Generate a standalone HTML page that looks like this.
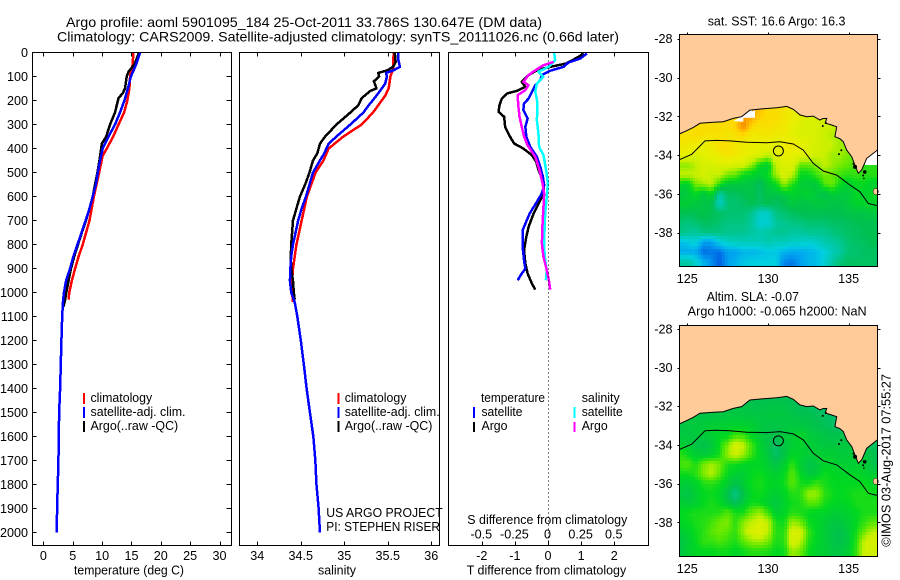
<!DOCTYPE html>
<html lang="en">
<head>
<meta charset="utf-8">
<title>Argo profile 5901095_184</title>
<style>
html,body{margin:0;padding:0;background:#fff;width:900px;height:580px;overflow:hidden}
svg{display:block}
text{font-family:"Liberation Sans",Arial,sans-serif;font-size:12.6px;fill:#000}
.title{font-size:14px}
</style>
</head>
<body>
<svg id="chart" xmlns="http://www.w3.org/2000/svg" width="900" height="580" viewBox="0 0 900 580">
  <rect x="0" y="0" width="900" height="580" fill="#fff"/>
  <g id="mapLayer"></g>
  <g id="seriesLayer"></g>
  <g id="axisLayer"></g>

  <text class="title" x="66" y="27" textLength="476" lengthAdjust="spacingAndGlyphs">Argo profile: aoml 5901095_184 25-Oct-2011 33.786S 130.647E (DM data)</text>
  <text class="title" x="57" y="41.5" textLength="562" lengthAdjust="spacingAndGlyphs">Climatology: CARS2009. Satellite-adjusted climatology: synTS_20111026.nc (0.66d later)</text>

  <text x="74" y="574.5" textLength="110" lengthAdjust="spacingAndGlyphs">temperature (deg C)</text>
  <text x="318" y="574.5" textLength="38" lengthAdjust="spacingAndGlyphs">salinity</text>
  <text x="466.7" y="574.5" textLength="159.5" lengthAdjust="spacingAndGlyphs">T difference from climatology</text>
  <text x="467.3" y="524" textLength="160" lengthAdjust="spacingAndGlyphs">S difference from climatology</text>

  <g>
    <rect x="83" y="393" width="2" height="11" fill="#f00"/>
    <rect x="83" y="407" width="2" height="11" fill="#00f"/>
    <rect x="83" y="421" width="2" height="11" fill="#000"/>
    <text x="90.5" y="402" textLength="61.7" lengthAdjust="spacingAndGlyphs">climatology</text>
    <text x="90.5" y="416" textLength="95" lengthAdjust="spacingAndGlyphs">satellite-adj. clim.</text>
    <text x="90.5" y="430" textLength="87.7" lengthAdjust="spacingAndGlyphs">Argo(..raw -QC)</text>
  </g>
  <g>
    <rect x="337.5" y="393" width="2" height="11" fill="#f00"/>
    <rect x="337.5" y="407" width="2" height="11" fill="#00f"/>
    <rect x="337.5" y="421" width="2" height="11" fill="#000"/>
    <text x="344.7" y="402" textLength="61.7" lengthAdjust="spacingAndGlyphs">climatology</text>
    <text x="344.7" y="416" textLength="95" lengthAdjust="spacingAndGlyphs">satellite-adj. clim.</text>
    <text x="344.7" y="430" textLength="87.7" lengthAdjust="spacingAndGlyphs">Argo(..raw -QC)</text>
  </g>
  <g>
    <text x="481" y="402" textLength="64" lengthAdjust="spacingAndGlyphs">temperature</text>
    <text x="581.7" y="402" textLength="38" lengthAdjust="spacingAndGlyphs">salinity</text>
    <rect x="473" y="407" width="2" height="11" fill="#00f"/>
    <rect x="473" y="422" width="2" height="10" fill="#000"/>
    <rect x="573.5" y="407" width="2" height="11" fill="#0ff"/>
    <rect x="573.5" y="422" width="2" height="10" fill="#f0f"/>
    <text x="481.5" y="416" textLength="41" lengthAdjust="spacingAndGlyphs">satellite</text>
    <text x="481.5" y="430" textLength="26" lengthAdjust="spacingAndGlyphs">Argo</text>
    <text x="581.7" y="416" textLength="41" lengthAdjust="spacingAndGlyphs">satellite</text>
    <text x="581.7" y="430" textLength="26" lengthAdjust="spacingAndGlyphs">Argo</text>
  </g>

  <text x="326.3" y="517" textLength="116.4" lengthAdjust="spacingAndGlyphs">US ARGO PROJECT</text>
  <text x="326.3" y="531" textLength="113.7" lengthAdjust="spacingAndGlyphs">PI: STEPHEN RISER</text>

  <text x="707.7" y="25.5" textLength="137.7" lengthAdjust="spacingAndGlyphs">sat. SST: 16.6 Argo: 16.3</text>
  <text x="706.7" y="301" textLength="92.3" lengthAdjust="spacingAndGlyphs">Altim. SLA: -0.07</text>
  <text x="687.7" y="315.7" textLength="179" lengthAdjust="spacingAndGlyphs">Argo h1000: -0.065 h2000: NaN</text>
  <text transform="translate(890.7 546.7) rotate(-90)" x="0" y="0" textLength="172.7" lengthAdjust="spacingAndGlyphs">©IMOS 03-Aug-2017 07:55:27</text>
</svg>

<script>
/* ---------- axis tick values ---------- */
const depthTicks = [0,100,200,300,400,500,600,700,800,900,1000,1100,1200,1300,1400,1500,1600,1700,1800,1900,2000];
const tempTicks = [0,5,10,15,20,25,30];
const salTicks = ['34','34.5','35','35.5','36'];
const tDiffTicks = ['-2','-1','0','1','2'];
const sDiffTicks = ['-0.5','-0.25','0','0.25','0.5'];
const lonTicks = [125,130,135];
const latTicks = [-28,-30,-32,-34,-36,-38];

/* ---------- temperature profiles ---------- */
const tempClimDepth = [0,50,70,100,150,200,250,300,350,400,430,500,600,700,800,850,900,950,1000,1030];
const tempClim = [15.33,15.2,15.0,14.77,14.65,14.3,13.75,12.8,11.9,10.8,10.1,9.5,8.6,7.85,6.7,6.0,5.4,4.85,4.4,4.3];
const tempArgoDepth = [0,50,80,100,150,170,190,250,300,350,380,450,500,550,600,650,700,750,800,850,900,950,1000,1030,1060];
const tempArgo = [16.3,15.5,14.5,14.2,13.9,13.5,12.8,12.2,11.35,10.7,9.95,9.55,9.2,8.8,8.4,7.85,7.25,6.55,5.9,5.25,4.7,4.3,3.9,3.7,3.4];
const tempSatDepth = [0,50,70,100,150,200,250,300,350,400,450,500,550,600,650,700,750,800,850,900,950,1000,1030,1100,1200,1300,1400,1500,1600,1700,1800,1900,2000];
const tempSat = [16.47,15.8,15.45,14.9,14.4,13.8,13.05,12.2,11.1,10.1,9.66,9.27,8.93,8.4,7.85,7.2,6.5,5.8,5.1,4.55,3.87,3.5,3.36,3.2,3.07,2.96,2.85,2.68,2.62,2.56,2.45,2.33,2.28];

/* ---------- salinity profiles ---------- */
const salClimDepth = [0,40,70,100,150,180,220,250,300,350,400,450,500,550,600,650,700,750,800,850,900,950,1000,1040];
const salClim = [35.57,35.56,35.56,35.53,35.51,35.47,35.39,35.33,35.2,34.99,34.82,34.76,34.67,34.62,34.57,34.54,34.51,34.48,34.45,34.43,34.41,34.4,34.4,34.41];
const salArgoDepth = [0,40,60,75,85,100,120,150,160,190,220,250,300,350,380,420,450,500,550,600,650,700,750,800,850,900,950,1000,1030];
const salArgo = [35.58,35.59,35.56,35.49,35.39,35.4,35.34,35.37,35.3,35.2,35.16,35.07,34.91,34.78,34.72,34.69,34.64,34.6,34.55,34.49,34.45,34.41,34.4,34.39,34.385,34.39,34.41,34.42,34.43];
const salSatDepth = [0,30,60,75,85,100,130,150,180,220,250,300,350,380,420,450,500,550,600,650,700,750,800,850,900,950,1000,1040,1100,1200,1300,1400,1500,1600,1700,1800,1900,2000];
const salSat = [35.62,35.62,35.64,35.56,35.48,35.49,35.47,35.43,35.37,35.28,35.22,35.07,34.91,34.82,34.77,34.72,34.64,34.6,34.56,34.51,34.47,34.44,34.41,34.39,34.38,34.375,34.39,34.43,34.46,34.5,34.535,34.567,34.605,34.644,34.667,34.68,34.705,34.72];

/* ---------- difference profiles ---------- */
const tDiffArgoDepth = [4,18,46,60,74,94,122,143,160,171,192,219,247,268,310,351,379,400,428,456,490,518,546,587,622,671,726,768,824,879,921,963,988];
const tDiffArgo = [1.06,0.91,0.53,0.05,-0.35,-0.6,-0.81,-0.7,-0.96,-1.26,-1.41,-1.48,-1.51,-1.34,-1.31,-1.16,-1.04,-0.76,-0.5,-0.37,-0.3,-0.22,-0.15,-0.15,-0.27,-0.45,-0.6,-0.67,-0.74,-0.7,-0.63,-0.5,-0.4];
const tDiffSatDepth = [4,25,42,60,76,94,115,136,164,192,212,240,275,310,351,393,435,476,518,553,587,622,671,740,810,865,900,928,949];
const tDiffSat = [1.16,0.96,0.6,0.45,0.05,-0.2,-0.25,-0.4,-0.5,-0.6,-0.74,-0.76,-0.63,-0.7,-0.67,-0.55,-0.35,-0.25,-0.17,-0.13,-0.2,-0.35,-0.57,-0.78,-0.78,-0.74,-0.7,-0.84,-0.93];
const sDiffSatDepth = [1,32,60,80,101,129,164,192,226,282,337,393,428,490,546,601,671,740,810,865,907,949];
const sDiffSat = [0.043,0.05,0,-0.076,-0.038,-0.088,-0.1,-0.088,-0.083,-0.088,-0.076,-0.071,-0.038,-0.018,-0.005,-0.013,-0.025,-0.03,-0.033,-0.025,-0.013,-0.02];
const sDiffArgoDepth = [39,53,74,94,122,136,157,178,226,268,310,351,386,435,490,546,587,643,712,796,851,907,949,988];
const sDiffArgo = [0.038,-0.038,-0.1,-0.151,-0.189,-0.151,-0.176,-0.234,-0.227,-0.219,-0.202,-0.184,-0.159,-0.1,-0.068,-0.045,-0.033,-0.038,-0.045,-0.05,-0.038,-0.013,0.003,0.013];

/* ---------- map grids: columns start at 124.5E every 0.5 deg, rows start at 31.5S ---------- */
const gridLon0 = 124.5;
const gridLat0 = -31.5;
const sstGrid = [
 [null,null,null,null,null,null,null,null,null,17.6,17.3,16.9,17,16.8,16.6,16.4,16.4,16.4,16.4,16.4,16.4,16.4,16.4,16.4,16.4],
 [17,17,17,17,17,17,17,16.8,17.6,17.5,17.1,16.9,16.9,16.7,16.6,16.4,16.3,16.2,16.2,16.2,16,16,16,null,null],
 [16.9,16.9,16.9,16.9,16.9,16.9,16.9,17.1,17.9,17,16.8,16.9,16.8,16.7,16.5,16.3,16.2,16.2,16.1,16,16,16,16,null,null],
 [16.8,16.8,16.9,16.8,16.8,16.8,16.7,16.8,16.9,16.6,16.7,16.7,16.6,16.6,16.4,16.3,16.3,16.2,16,15.9,15.8,15.8,15.8,null,null],
 [16.7,16.7,16.6,16.5,16.6,16.9,16.9,16.7,16.6,16.6,16.5,16.5,16.4,16.6,16.7,16.5,16.3,16.2,16.1,16,15.8,15.8,15.7,null,null],
 [16.5,16.4,16.3,16.4,16.5,16.6,16.8,16.7,16.6,16.4,16.3,16,16.4,16.5,16.5,16.4,16.3,16.1,16,15.8,15.8,15.6,15.6,null,null],
 [15.7,15.7,15.9,16.2,16.2,16.3,16.3,16.2,16.2,15.7,15,14.8,16,16.3,16.3,15.5,15.5,15.7,16,15.8,15.6,15.5,15.3,15.2,15.2],
 [16,16,16,16.2,16,16,15.6,15.5,15,14.9,14.8,15,15.8,16.2,16,15,15,15.3,15.6,15.5,15.3,15.2,15.3,15.2,15.2],
 [15,14.8,15.6,15.8,16,15.2,14.7,14.7,14.7,14.6,14.4,14.8,15,15.8,15.2,14.8,14.7,14.7,15.4,15.6,15,14.8,15,15,14.8],
 [14.6,14.7,15,14.6,15,13.9,14.4,14.4,14.5,14.6,14.4,14.6,14.6,14.7,14.9,14.8,14.9,14.7,14.5,14.8,14.7,14.7,15,14.8,15],
 [14.8,14.8,14.7,14.6,14.6,13.7,14.3,14.3,14.4,14.5,14.4,14.5,14.4,14.5,14.7,14.6,14.6,14.7,14.7,14.6,14.6,14.7,14.9,14.9,14.9],
 [14.5,14.5,14.5,14.6,14.5,14.4,14.3,14.3,14.3,14.1,13.7,13.7,14.2,14.3,14.4,14.5,14.5,14.5,14.5,14.5,14.5,14.6,14.6,14.6,14.7],
 [14.3,14.2,14.3,14.4,14.4,14.3,14.2,14.2,14.2,14,13.6,13.6,14,14.1,14.2,14.2,14.3,14.3,14.3,14.4,14.4,14.4,14.5,14.5,14.5],
 [14.2,14.1,14,14.2,14.2,14.2,14.1,14.1,14.1,14,13.9,14,14.1,14.1,14,14,14.1,14.1,14.1,14.2,14.3,14.4,14.4,14.5,14.5],
 [13.3,13.4,13.6,13,13,13.5,13.7,13.8,13.8,13.8,13.8,13.9,13.8,13.8,13.7,13.7,13.6,13.7,13.9,14,14.1,14.3,14.4,14.4,14.5],
 [13.1,13.1,13.1,12.6,12.7,12.6,13,13,13.2,13.2,13.3,13.4,13.4,13.2,13.1,13.1,13.2,13.3,13.5,13.8,14,14.3,14.3,14.4,14.4],
 [14,14,13.7,13.2,12.9,12.5,13,13.2,13.4,13.5,13.5,13.5,13.5,12.8,12.7,13,13.2,13.3,13.6,14,14.3,14.4,14.4,14.4,14.4]
];
const slaGrid = [
 [-0.14,-0.14,-0.14,-0.14,-0.14,-0.14,-0.14,-0.14,-0.14,-0.14,-0.14,-0.15,-0.15,-0.15,-0.16,-0.17,-0.18,-0.18,-0.18,-0.18,-0.18,-0.18,-0.18,-0.18,-0.18],
 [-0.15,-0.15,-0.15,-0.14,-0.14,-0.13,-0.13,-0.13,-0.13,-0.14,-0.14,-0.13,-0.13,-0.13,-0.14,-0.15,-0.16,-0.17,-0.17,-0.18,-0.18,-0.18,-0.18,-0.18,-0.18],
 [-0.14,-0.13,-0.13,-0.13,-0.13,-0.12,-0.12,-0.12,-0.12,-0.12,-0.12,-0.12,-0.12,-0.12,-0.13,-0.14,-0.14,-0.15,-0.16,-0.17,-0.18,-0.19,-0.19,-0.18,-0.18],
 [-0.13,-0.12,-0.11,-0.11,-0.1,-0.1,-0.09,-0.09,-0.09,-0.1,-0.12,-0.13,-0.13,-0.12,-0.12,-0.12,-0.13,-0.14,-0.15,-0.16,-0.17,-0.17,-0.16,-0.16,-0.16],
 [-0.12,-0.12,-0.12,-0.11,-0.1,-0.08,-0.08,-0.02,-0.03,-0.08,-0.11,-0.13,-0.14,-0.12,-0.1,-0.08,-0.11,-0.12,-0.13,-0.14,-0.14,-0.14,-0.14,-0.14,-0.16],
 [-0.1,-0.11,-0.13,-0.14,-0.12,-0.06,0.03,0.12,0.08,-0.02,-0.09,-0.13,-0.17,-0.13,-0.1,-0.09,-0.1,-0.11,-0.12,-0.12,-0.12,-0.12,-0.13,-0.14,-0.16],
 [-0.03,-0.06,-0.1,-0.11,-0.1,-0.05,0.05,0.1,0.05,-0.03,-0.08,-0.12,-0.17,-0.13,-0.08,-0.09,-0.11,-0.1,-0.1,-0.1,-0.11,-0.11,-0.11,-0.12,-0.14],
 [-0.02,0,-0.05,0.02,0.06,0.02,-0.05,-0.06,-0.08,-0.08,-0.08,-0.1,-0.13,-0.1,-0.03,-0.1,-0.13,-0.12,-0.09,-0.09,-0.1,-0.1,-0.1,-0.1,-0.14],
 [-0.06,-0.06,-0.04,0.03,0.08,0,-0.07,-0.1,-0.1,-0.07,-0.06,-0.08,-0.1,-0.07,0,-0.07,-0.12,-0.11,-0.06,-0.07,-0.08,-0.08,-0.08,-0.09,-0.1],
 [-0.1,-0.11,-0.09,-0.05,-0.04,-0.06,-0.1,-0.14,-0.1,-0.06,-0.05,-0.07,-0.08,-0.06,0,-0.05,-0.06,-0.02,-0.05,-0.07,-0.07,-0.07,-0.07,-0.06,-0.08],
 [-0.12,-0.13,-0.1,-0.07,-0.06,-0.08,-0.14,-0.2,-0.13,-0.07,-0.06,-0.08,-0.1,-0.08,-0.04,-0.04,0.05,0.05,-0.03,-0.06,-0.07,-0.06,-0.05,-0.05,-0.06],
 [-0.1,-0.11,-0.1,-0.07,-0.05,-0.07,-0.12,-0.16,-0.11,-0.06,-0.07,-0.1,-0.12,-0.09,-0.06,-0.05,0,0,-0.05,-0.07,-0.08,-0.07,-0.05,-0.05,-0.05],
 [-0.07,-0.06,-0.05,-0.05,-0.05,-0.04,0,-0.05,-0.05,0.02,0.05,-0.02,-0.1,-0.08,-0.04,-0.05,-0.07,-0.08,-0.08,-0.1,-0.1,-0.09,-0.07,-0.05,-0.05],
 [-0.08,-0.07,-0.05,-0.04,-0.02,0.02,0.03,-0.04,0.04,0.08,0.12,0.08,-0.05,-0.06,0.05,0.02,-0.06,-0.08,-0.1,-0.12,-0.12,-0.1,-0.07,-0.03,0],
 [-0.11,-0.09,-0.06,-0.04,0,0.02,0,-0.03,0.06,0.12,0.14,0.08,-0.04,-0.04,0.12,0.12,-0.02,-0.08,-0.1,-0.13,-0.14,-0.11,-0.05,0.02,0.08],
 [-0.13,-0.11,-0.07,-0.03,-0.03,-0.01,-0.03,-0.05,0,0.04,0.05,0.02,-0.05,-0.04,0.12,0.08,-0.04,-0.08,-0.1,-0.13,-0.14,-0.11,-0.03,0.1,0.12],
 [-0.13,-0.1,-0.08,-0.07,-0.07,-0.06,-0.06,-0.08,-0.06,-0.04,-0.04,-0.05,-0.07,-0.06,0.05,0.02,-0.06,-0.09,-0.1,-0.12,-0.12,-0.1,-0.02,0.1,0.1]
];

/* ---------- colour ramp anchors (field value, colour) ---------- */
const rampValues = [12.4,13,13.5,14,14.5,15,15.5,16,16.5,17,17.5,18];
const rampColours = [[0,80,224],[0,160,240],[0,208,224],[0,200,160],[0,192,80],[0,216,32],[96,232,0],[200,240,0],[232,240,0],[255,216,0],[255,168,0],[240,120,0]];

/* ---------- coast, bathymetry contour, island blobs, float position ---------- */
const coastLon = [124.5,124.96,125.37,125.79,126.61,127.23,127.85,128.37,128.88,129.71,130.54,131.16,131.57,131.98,132.4,132.81,133.22,133.4,133.64,133.55,133.95,134.26,134.15,134.45,134.67,134.88,135.19,135.39,135.6,135.81,136.12,136.78];
const coastLat = [-32.91,-32.74,-32.57,-32.36,-32.31,-32.28,-32.11,-32.02,-31.68,-31.61,-31.56,-31.49,-31.64,-31.93,-32.02,-31.99,-32.19,-32.12,-32.11,-32.35,-32.45,-32.54,-33.05,-33.15,-33.31,-33.74,-34.08,-34.51,-34.94,-34.77,-34.17,-33.74];
const contourLon = [124.5,125.27,126.1,126.82,127.64,128.68,129.92,130.74,131.57,132.19,132.81,133.43,134.26,135.08,135.7,136.22,136.78];
const contourLat = [-34.24,-33.96,-33.27,-33.24,-33.27,-33.34,-33.36,-33.31,-33.43,-33.74,-34.43,-34.82,-35.03,-35.54,-35.89,-36.49,-36.61];
const islandLon = [133.4,133.6,134.55,134.4,135.4,135.3,136,135.9,135.95];
const islandLat = [-32.5,-32.35,-33.75,-33.95,-34.61,-34.45,-34.87,-35.05,-35.2];
const islandSize = [1,1,1,1,2,1,1.8,1,0.8];
const sstGapLon = [127.85,128.58,129.2,129.2,128.47,128.47];
const sstGapLat = [-32.24,-31.93,-31.68,-32.07,-32.07,-32.28];
const floatLon = 130.647;
const floatLat = -33.786;

/* ---------- scales ---------- */
const depthY = d => 52.5 + d * 0.24;
const tempX = t => 43.4 + t * 5.87;
const salX = s => 257.3 + (s - 34) * 87;
const tDiffX = t => 548.5 + t * 33.1;
const sDiffX = s => 548.5 + s * 132.4;
const lonX = lon => 687.3 + (lon - 125) * 16.13;
const latYTop = lat => 38.7 + (-28 - lat) * 19.4;
const latYBottom = lat => 328.8 + (-28 - lat) * 19.36;

const NS = 'http://www.w3.org/2000/svg';
const mapLayer = document.getElementById('mapLayer');
const seriesLayer = document.getElementById('seriesLayer');
const axisLayer = document.getElementById('axisLayer');

function shape(parent, tag, name, attrs) {
  const el = document.createElementNS(NS, tag);
  
  
  for (const k in attrs) el.setAttribute(k, attrs[k]);
  parent.appendChild(el);
  return el;
}

function label(name, x, y, str, anchor) {
  const el = shape(axisLayer, 'text', name, { x: x, y: y, 'text-anchor': anchor });
  el.textContent = str;
}

function tick(name, x1, y1, x2, y2) {
  shape(axisLayer, 'line', name, { x1: x1, y1: y1, x2: x2, y2: y2, stroke: '#000', 'stroke-width': 1, 'shape-rendering': 'crispEdges' });
}

function profile(name, xs, ds, xScale, colour) {
  const pts = xs.map((v, i) => xScale(v).toFixed(2) + ',' + depthY(ds[i]).toFixed(2)).join(' ');
  shape(seriesLayer, 'polyline', name, { points: pts, fill: 'none', stroke: colour, 'stroke-width': 2.5, 'stroke-linejoin': 'round', 'shape-rendering': 'crispEdges' });
}

/* ---------- panels ---------- */
const L = 32.5, R = 231.5, T = 52.5, B = 545.5;
shape(axisLayer, 'rect', 'temperature-panel-frame', { x: L, y: T, width: R - L, height: B - T, fill: 'none', stroke: '#000', 'stroke-width': 1 });
shape(axisLayer, 'rect', 'salinity-panel-frame', { x: 239.5, y: T, width: 200, height: B - T, fill: 'none', stroke: '#000', 'stroke-width': 1 });
shape(axisLayer, 'rect', 'difference-panel-frame', { x: 448.5, y: T, width: 200, height: B - T, fill: 'none', stroke: '#000', 'stroke-width': 1 });

depthTicks.forEach(d => {
  const y = Math.round(depthY(d) - 0.5) + 0.5;
  tick('depth-tick-left', L, y, L + 4, y);
  tick('depth-tick-right', R, y, R - 5, y);
  label('depth-tick-label', 28, y + 4.5, String(d), 'end');
});
tempTicks.forEach(t => {
  const x = Math.round(tempX(t)) + 0.5;
  tick('temperature-tick-top', x, T, x, T + 4);
  tick('temperature-tick-bottom', x, B, x, B - 4);
  label('temperature-tick-label', tempX(t), 560, String(t), 'middle');
});
salTicks.forEach(s => {
  const x = Math.round(salX(Number(s))) + 0.5;
  tick('salinity-tick-top', x, T, x, T + 4);
  tick('salinity-tick-bottom', x, B, x, B - 4);
  label('salinity-tick-label', salX(Number(s)), 560, s, 'middle');
});
tDiffTicks.forEach(t => {
  const x = Math.round(tDiffX(Number(t)) - 0.5) + 0.5;
  tick('t-difference-tick-top', x, T, x, T + 4);
  tick('t-difference-tick-bottom', x, B, x, B - 4);
  label('t-difference-tick-label', tDiffX(Number(t)) - 0.5, 560, t, 'middle');
});
sDiffTicks.forEach(s => {
  label('s-difference-tick-label', sDiffX(Number(s)) - 1, 538.3, s, 'middle');
});
shape(axisLayer, 'line', 'zero-reference-line', { x1: 548.5, y1: T, x2: 548.5, y2: B, stroke: '#000', 'stroke-width': 1, 'stroke-dasharray': '1 3', 'shape-rendering': 'crispEdges' });

/* ---------- profile lines ---------- */
profile('temperature-climatology-line', tempClim, tempClimDepth, tempX, '#f00');
profile('temperature-argo-line', tempArgo, tempArgoDepth, tempX, '#000');
profile('temperature-satellite-line', tempSat, tempSatDepth, tempX, '#00f');
profile('salinity-climatology-line', salClim, salClimDepth, salX, '#f00');
profile('salinity-argo-line', salArgo, salArgoDepth, salX, '#000');
profile('salinity-satellite-line', salSat, salSatDepth, salX, '#00f');
profile('t-difference-argo-line', tDiffArgo, tDiffArgoDepth, tDiffX, '#000');
profile('t-difference-satellite-line', tDiffSat, tDiffSatDepth, tDiffX, '#00f');
profile('s-difference-satellite-line', sDiffSat, sDiffSatDepth, sDiffX, '#0ff');
profile('s-difference-argo-line', sDiffArgo, sDiffArgoDepth, sDiffX, '#f0f');

/* ---------- maps ---------- */
function rampColour(v) {
  if (v <= rampValues[0]) return 'rgb(' + rampColours[0].join(',') + ')';
  for (let i = 1; i < rampValues.length; i++) {
    if (v <= rampValues[i]) {
      const f = (v - rampValues[i - 1]) / (rampValues[i] - rampValues[i - 1]);
      const a = rampColours[i - 1], b = rampColours[i];
      return 'rgb(' + a.map((c, k) => Math.round(c + (b[k] - c) * f)).join(',') + ')';
    }
  }
  return 'rgb(' + rampColours[rampColours.length - 1].join(',') + ')';
}
const slaToRamp = v => 15.45 + 6.5 * v;
const sstToRamp = v => v;
const LON_MAX = 136.78, LAT_MIN = -39.72;

function cellRect(g, name, yOf, lon0, lon1, lat0, lat1, fill) {
  const xa = Math.round(lonX(Math.max(lon0, gridLon0)));
  const xb = Math.round(lonX(Math.min(lon1, LON_MAX - 0.03)));
  const ya = Math.round(yOf(lat0));
  const yb = Math.round(yOf(Math.max(lat1, LAT_MIN)));
  if (yb <= ya || xb <= xa) return;
  shape(g, 'rect', name, { x: xa, y: ya, width: xb - xa, height: yb - ya, fill: fill, 'shape-rendering': 'crispEdges' });
}

function drawGridCells(g, yOf, grid, toRamp, name) {
  const sub = 3;
  for (let r = 0; r < grid.length; r++) {
    for (let c = 0; c < grid[r].length; c++) {
      const v00 = grid[r][c];
      if (v00 === null) continue;
      const nr = grid[Math.min(r + 1, grid.length - 1)];
      const pick = v => (v === null ? v00 : v);
      const v01 = pick(grid[r][Math.min(c + 1, 24)]);
      const v10 = pick(nr[c]);
      const v11 = pick(nr[Math.min(c + 1, 24)]);
      for (let i = 0; i < sub; i++) {
        for (let j = 0; j < sub; j++) {
          const fx = (i + 0.5) / sub, fy = (j + 0.5) / sub;
          const v = (v00 * (1 - fx) + v01 * fx) * (1 - fy) + (v10 * (1 - fx) + v11 * fx) * fy;
          const lon = gridLon0 + (c + i / sub) * 0.5;
          const lat = gridLat0 - (r + j / sub) * 0.5;
          cellRect(g, name, yOf, lon, lon + 0.5 / sub, lat, lat - 0.5 / sub, rampColour(toRamp(v)));
        }
      }
    }
  }
}

function drawMap(prefix, yOf, top, bottom, grid, toRamp) {
  const g = shape(mapLayer, 'g', prefix + '-map', {});
  const xL = 679.5, xR = 877.5;
  shape(g, 'rect', prefix + '-map-background', { x: xL, y: top, width: xR - xL, height: bottom - top, fill: '#fff' });
  drawGridCells(g, yOf, grid, toRamp, prefix + '-cell');
  if (prefix === 'sst') {
    const gap = sstGapLon.map((lon, i) => lonX(lon).toFixed(1) + ',' + yOf(sstGapLat[i]).toFixed(1)).join(' ');
    shape(g, 'polygon', 'sst-no-data-gap', { points: gap, fill: '#fff' });
  }
  const coast = coastLon.map((lon, i) => lonX(lon).toFixed(1) + ',' + yOf(coastLat[i]).toFixed(1)).join(' ');
  const land = coast + ' ' + xR + ',' + top + ' ' + xL + ',' + top;
  shape(g, 'polygon', prefix + '-land', { points: land, fill: '#ffcc99', stroke: 'none' });
  shape(g, 'polyline', prefix + '-coastline', { points: coast, fill: 'none', stroke: '#000', 'stroke-width': 1 });
  shape(g, 'ellipse', prefix + '-kangaroo-island', { cx: lonX(136.68), cy: yOf(-35.88), rx: 2.6, ry: 3.2, fill: '#ffcc99', stroke: '#000', 'stroke-width': 0.5 });
  islandLon.forEach((lon, i) => {
    shape(g, 'circle', prefix + '-island', { cx: lonX(lon), cy: yOf(islandLat[i]), r: islandSize[i], fill: '#000' });
  });
  const contour = contourLon.map((lon, i) => lonX(lon).toFixed(1) + ',' + yOf(contourLat[i]).toFixed(1)).join(' ');
  shape(g, 'polyline', prefix + '-depth-contour', { points: contour, fill: 'none', stroke: '#000', 'stroke-width': 1 });
  shape(g, 'circle', prefix + '-float-position', { cx: lonX(floatLon), cy: yOf(floatLat), r: 5, fill: 'none', stroke: '#000', 'stroke-width': 1 });
  shape(g, 'rect', prefix + '-map-frame', { x: xL, y: top, width: xR - xL, height: bottom - top, fill: 'none', stroke: '#000', 'stroke-width': 1 });
  lonTicks.forEach(lon => {
    const x = Math.round(lonX(lon)) + 0.5;
    tick(prefix + '-longitude-tick', x, top, x, top - 2);
    label(prefix + '-longitude-label', lonX(lon), bottom + 16.5, String(lon), 'middle');
  });
  latTicks.forEach(lat => {
    const y = Math.round(yOf(lat)) + 0.5;
    tick(prefix + '-latitude-tick-right', xR, y, xR + 3, y);
    tick(prefix + '-latitude-tick-left', xL, y, xL - 2, y);
    label(prefix + '-latitude-label', 672.5, yOf(lat) + 4.5, String(lat), 'end');
  });
}

drawMap('sst', latYTop, 34.5, 266.5, sstGrid, sstToRamp);
drawMap('sla', latYBottom, 325.5, 556.5, slaGrid, slaToRamp);
</script>
</body>
</html>
